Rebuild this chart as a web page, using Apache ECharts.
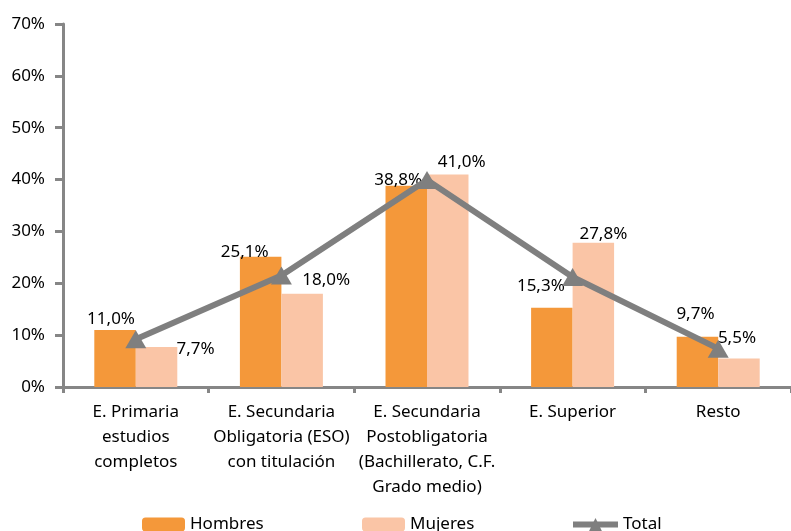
<!DOCTYPE html>
<html>
<head>
<meta charset="utf-8">
<script src="https://cdn.jsdelivr.net/npm/echarts@6/dist/echarts.min.js"></script>
<style>
  html, body { margin: 0; padding: 0; background: #fff; }
  #chart { width: 791px; height: 531px; }
</style>
</head>
<body>
<div id="chart"></div>
<script>
// Nivel de estudios: porcentaje por sexo y total
const categories = [
  'E. Primaria\nestudios\ncompletos',
  'E. Secundaria\nObligatoria (ESO)\ncon titulación',
  'E. Secundaria\nPostobligatoria\n(Bachillerato, C.F.\nGrado medio)',
  'E. Superior',
  'Resto'
];
const hombres = [11.0, 25.1, 38.8, 15.3, 9.7];
const mujeres = [7.7, 18.0, 41.0, 27.8, 5.5];
const total = [9.2, 21.5, 39.9, 21.2, 7.4];
const yTicks = [0, 10, 20, 30, 40, 50, 60, 70];

// Label nudges (px) so the value labels sit clear of the line
const hombresLabelShift = [[-4, 3], [-16, 9], [-8, 8], [-11, -8], [-2, -9]];
const mujeresLabelShift = [[39, 16], [24, 0], [14, 1], [10, 5], [-2, -7]];

const FONT = 'Noto Sans';
const FS = 17;
const fmt = v => v.toFixed(1).replace('.', ',') + '%';

function barData(values, shifts) {
  return values.map((v, i) => ({
    value: v,
    label: { offset: shifts[i] }
  }));
}

const legendText = { fontFamily: FONT, fontSize: FS, color: '#000' };

const chart = echarts.init(document.getElementById('chart'));
chart.setOption({
  animation: false,
  textStyle: { fontFamily: FONT },
  grid: { left: 63, top: 24, width: 735, bottom: 144, containLabel: false },
  legend: [
    { data: ['Hombres'], left: 137, top: 511, itemWidth: 43, itemHeight: 14, itemGap: 4, textStyle: legendText },
    { data: ['Mujeres'], left: 357, top: 511, itemWidth: 43, itemHeight: 14, itemGap: 4, textStyle: legendText },
    {
      data: ['Total'], left: 565, top: 511, itemWidth: 45, itemHeight: 16, itemGap: 0,
      textStyle: legendText,
      lineStyle: { width: 6 }
    }
  ],
  xAxis: {
    type: 'category',
    data: categories,
    axisLine: { lineStyle: { color: '#868686', width: 3 } },
    axisTick: { show: true, length: 6, lineStyle: { color: '#868686', width: 3 } },
    axisLabel: {
      interval: 0, color: '#000', fontFamily: FONT, fontSize: FS,
      lineHeight: 25, margin: 13
    }
  },
  yAxis: {
    type: 'value',
    min: yTicks[0],
    max: yTicks[yTicks.length - 1],
    interval: 10,
    axisLine: { show: true, lineStyle: { color: '#868686', width: 3 } },
    axisTick: { show: true, length: 8, lineStyle: { color: '#868686', width: 3 } },
    splitLine: { show: false },
    axisLabel: {
      color: '#000', fontFamily: FONT, fontSize: FS, margin: 18,
      formatter: v => v + '%'
    }
  },
  series: [
    {
      name: 'Hombres',
      type: 'bar',
      data: barData(hombres, hombresLabelShift),
      barGap: '0%',
      barCategoryGap: '43%',
      itemStyle: { color: '#F4983A' },
      label: {
        show: true, position: 'top', color: '#000',
        fontFamily: FONT, fontSize: FS,
        formatter: p => fmt(p.value)
      },
      z: 2
    },
    {
      name: 'Mujeres',
      type: 'bar',
      data: barData(mujeres, mujeresLabelShift),
      itemStyle: { color: '#FAC5A6' },
      label: {
        show: true, position: 'top', color: '#000',
        fontFamily: FONT, fontSize: FS,
        formatter: p => fmt(p.value)
      },
      z: 2
    },
    {
      name: 'Total',
      type: 'line',
      data: total,
      symbol: 'triangle',
      symbolSize: [21, 18],
      itemStyle: { color: '#7F7F7F' },
      lineStyle: { color: '#7F7F7F', width: 6 },
      label: { show: false },
      z: 3
    }
  ]
});
</script>
</body>
</html>
